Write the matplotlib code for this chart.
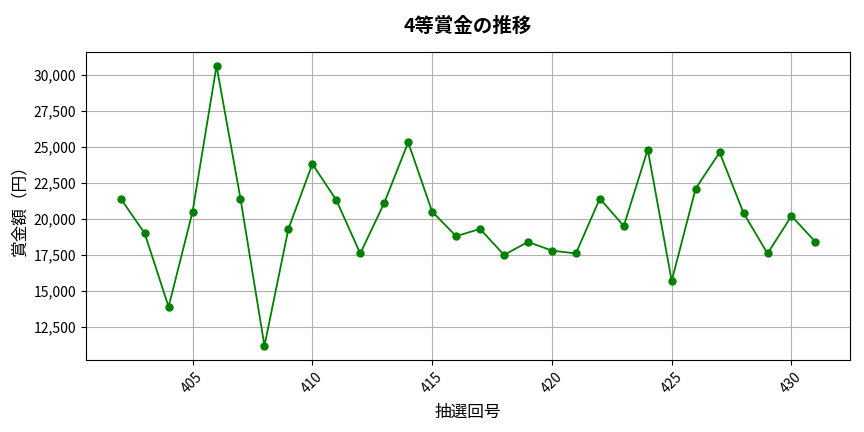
import matplotlib
matplotlib.use('Agg')
import matplotlib.pyplot as plt
from matplotlib.ticker import FuncFormatter

plt.rcParams['font.family'] = ['Noto Sans CJK JP', 'DejaVu Sans']

draws = list(range(402, 432))
prizes = [21400, 19000, 13900, 20500, 30600, 21400, 11200, 19300, 23800, 21300,
          17600, 21100, 25300, 20500, 18800, 19300, 17500, 18400, 17800, 17600,
          21400, 19500, 24800, 15700, 22100, 24600, 20400, 17600, 20200, 18400]

fig = plt.figure(figsize=(8.64, 4.32), dpi=100)
ax = fig.add_axes([0.0995, 0.167, 0.8845, 0.713])

ax.plot(draws, prizes, color='green', marker='o', markersize=5, linewidth=1.3)

ax.set_title('4等賞金の推移', fontsize=14, fontweight='bold', pad=14)
ax.set_xlabel('抽選回号', fontsize=12, labelpad=6)
ax.set_ylabel('賞金額（円）', fontsize=12, labelpad=4)

ax.yaxis.set_major_formatter(FuncFormatter(lambda v, p: '{:,.0f}'.format(v)))
plt.xticks(rotation=45, fontsize=10)
plt.yticks(fontsize=10)
ax.grid(True, color='#b0b0b0', linewidth=0.8)

fig.savefig('out.png', dpi=100)
